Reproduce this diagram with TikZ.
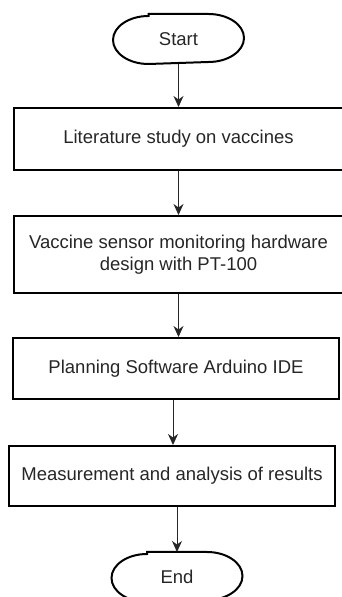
\documentclass[tikz,border=0pt]{standalone}
\usepackage{fontspec}
\setmainfont{Liberation Sans}
\usepackage{tikz}
\usetikzlibrary{arrows.meta,positioning}
\tikzset{
    flownode/.style = {
        align=center,
        inner sep=0pt,
        text centered,
        font=\fontsize{18.5}{22}\selectfont,
        text=black!85,
        rectangle,
        draw=black,
        line width=2pt,
        minimum width=330pt,
        minimum height=62pt
    },
    termnode/.style = {
        flownode,
        draw=none,
        minimum width=131pt,
        minimum height=48pt
    },
    termline/.style = {
        draw=black,
        line width=2pt
    },
    flowarrow/.style = {
        draw=black!85,
        line width=1pt,
        -{Stealth[length=11pt,width=10pt,inset=3.5pt]}
    }
}
\newcommand{\termoutline}[1]{
    \draw [termline] ([xshift=-30pt]#1.north) -- ([xshift=30pt]#1.north)
        arc [start angle=90, end angle=-90, x radius=35.5pt, y radius=24pt]
        -- ([xshift=-30pt]#1.south)
        arc [start angle=270, end angle=90, x radius=35.5pt, y radius=24pt] -- cycle;
}
\begin{document}
\begin{tikzpicture}[x=1pt,y=1pt]
            \useasboundingbox (0,0) rectangle (341,597);
            \node [termnode] (start) at (178.5,558) {Start};
            \node [flownode, below=43pt of start] (lit) {Literature study on vaccines};
            \node [flownode, below=44pt of lit, minimum height=77pt] (hw) {Vaccine sensor monitoring hardware\\design with PT-100};
            \node [flownode, below=43pt of hw, xshift=-2.5pt, minimum width=326pt, minimum height=61pt] (sw) {Planning Software Arduino IDE};
            \node [flownode, below=45pt of sw, xshift=-4pt, minimum width=326pt, minimum height=60pt] (meas) {Measurement and analysis of results};
            \node [termnode, below=45pt of meas, xshift=5pt] (end) {End};
            \termoutline{start}
            \termoutline{end}
            \draw [flowarrow] (start) -- (lit);
            \draw [flowarrow] (lit) -- (hw);
            \draw [flowarrow] (hw.south -| lit.south) -- (hw.south |- sw.north);
            \draw [flowarrow] ([xshift=-3pt]sw.south) -- ([xshift=-3pt]sw.south |- meas.north);
            \draw [flowarrow] (end.north |- meas.south) -- (end);
        \end{tikzpicture}
\end{document}
